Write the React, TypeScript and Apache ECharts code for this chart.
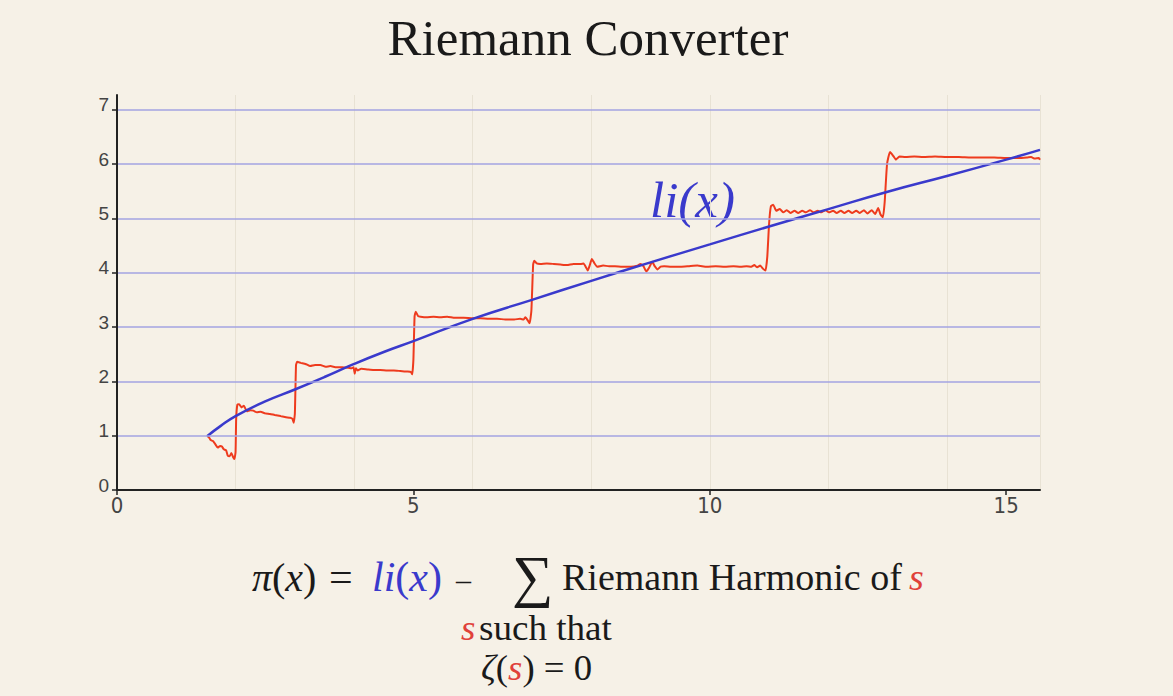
import React, { useEffect, useRef } from "react";
import * as echarts from "echarts";

// ---- Data ----
// Red curve: prime counting approximation pi(x) built from harmonics
const piX = [
  1.52, 1.55, 1.58, 1.62, 1.66, 1.7, 1.74, 1.77, 1.8, 1.84, 1.87, 1.9, 1.93, 1.96, 1.98, 2.0,
  2.01, 2.03, 2.06, 2.1, 2.14, 2.19, 2.25, 2.3, 2.36, 2.42, 2.5, 2.58, 2.66, 2.76, 2.85, 2.92,
  2.96, 2.98, 3.0, 3.02, 3.04, 3.1, 3.18, 3.26, 3.34, 3.43, 3.52, 3.6, 3.7, 3.8, 3.9, 3.96,
  3.99, 4.01, 4.03, 4.06, 4.12, 4.22, 4.33, 4.44, 4.56, 4.67, 4.78, 4.9, 4.96, 4.98, 5.0, 5.02,
  5.04, 5.08, 5.12, 5.22, 5.34, 5.45, 5.57, 5.7, 5.85, 6.0, 6.13, 6.27, 6.41, 6.55, 6.7, 6.8,
  6.86, 6.89, 6.93, 6.96, 6.99, 7.02, 7.04, 7.08, 7.14, 7.25, 7.37, 7.48, 7.59, 7.7, 7.82, 7.87,
  7.91, 7.94, 7.97, 8.01, 8.05, 8.1, 8.2, 8.3, 8.4, 8.52, 8.67, 8.78, 8.83, 8.88, 8.93, 8.97,
  9.03, 9.07, 9.12, 9.17, 9.23, 9.35, 9.51, 9.65, 9.79, 9.95, 10.1, 10.25, 10.4, 10.52, 10.62, 10.7,
  10.75, 10.8, 10.85, 10.9, 10.94, 10.97, 11.0, 11.03, 11.07, 11.12, 11.18, 11.24, 11.3, 11.36, 11.43, 11.49,
  11.56, 11.62, 11.69, 11.75, 11.82, 11.88, 11.95, 12.01, 12.08, 12.14, 12.21, 12.27, 12.34, 12.4, 12.47, 12.53,
  12.6, 12.66, 12.73, 12.79, 12.84, 12.88, 12.92, 12.95, 12.99, 13.04, 13.1, 13.14, 13.2, 13.3, 13.45, 13.6,
  13.8, 14.0, 14.2, 14.4, 14.6, 14.8, 15.0, 15.2, 15.35, 15.42, 15.48, 15.55, 15.57,
];
const piY = [
  0.99, 0.97, 0.92, 0.9, 0.84, 0.78, 0.81, 0.8, 0.75, 0.73, 0.63, 0.62, 0.68, 0.6, 0.57, 0.7,
  1.3, 1.57, 1.58, 1.52, 1.55, 1.45, 1.47, 1.46, 1.43, 1.44, 1.41, 1.4, 1.38, 1.36, 1.34, 1.33,
  1.31, 1.24, 1.4, 2.3, 2.36, 2.34, 2.32, 2.28, 2.3, 2.3, 2.27, 2.28, 2.26, 2.26, 2.25, 2.24,
  2.26, 2.14, 2.24, 2.2, 2.23, 2.22, 2.21, 2.21, 2.2, 2.2, 2.19, 2.18, 2.17, 2.13, 2.4, 3.2,
  3.28, 3.2, 3.19, 3.18, 3.19, 3.18, 3.19, 3.17, 3.17, 3.16, 3.16, 3.15, 3.15, 3.14, 3.14, 3.15,
  3.14, 3.18, 3.12, 3.07, 3.3, 4.15, 4.22, 4.17, 4.16, 4.17, 4.16, 4.15, 4.14, 4.16, 4.16, 4.17,
  4.1, 4.04, 4.12, 4.25, 4.18, 4.11, 4.13, 4.12, 4.12, 4.11, 4.11, 4.13, 4.16, 4.12, 4.02, 4.08,
  4.2, 4.12, 4.06, 4.11, 4.12, 4.11, 4.11, 4.12, 4.13, 4.11, 4.12, 4.11, 4.12, 4.11, 4.12, 4.11,
  4.14, 4.1, 4.13, 4.07, 4.04, 4.3, 4.9, 5.22, 5.25, 5.14, 5.17, 5.11, 5.15, 5.1, 5.14, 5.1,
  5.14, 5.11, 5.15, 5.11, 5.14, 5.11, 5.15, 5.11, 5.14, 5.1, 5.14, 5.1, 5.14, 5.1, 5.14, 5.1,
  5.15, 5.09, 5.15, 5.08, 5.19, 5.07, 5.02, 5.3, 6.0, 6.22, 6.14, 6.08, 6.14, 6.13, 6.14, 6.13,
  6.14, 6.13, 6.13, 6.12, 6.12, 6.12, 6.11, 6.11, 6.12, 6.13, 6.1, 6.11, 6.08,
];

// Blue curve: li(x)
const liX = [1.52, 1.75, 2, 2.5, 3, 3.5, 4, 4.5, 5, 6, 7, 8, 9, 10, 11, 12, 13, 14, 15, 15.57];
const liY = [0.99, 1.18, 1.36, 1.63, 1.85, 2.08, 2.32, 2.54, 2.74, 3.15, 3.5, 3.85, 4.19, 4.52, 4.85, 5.17, 5.49, 5.78, 6.08, 6.26];

const yTickValues = [0, 1, 2, 3, 4, 5, 6, 7];
const xTickValues = [0, 5, 10, 15];
const xGridStep = 2;
const X_MAX = 15.57;
const Y_MAX = 7.27;

const TITLE = "Riemann Converter";

export default function App() {
  const ref = useRef<HTMLDivElement>(null);

  useEffect(() => {
    document.body.style.margin = "0";
    document.body.style.background = "#f6f1e7";
    const chart = echarts.init(ref.current!, null, { renderer: "svg" });

    const serif = "'Liberation Serif', 'Times New Roman', serif";
    const black = "#1a1a1a";
    const blue = "#3a3acc";
    const red = "#e0413a";

    const option = {
      animation: false,
      backgroundColor: "#f6f1e7",
      grid: { left: 117, right: 133, top: 95, bottom: 206, containLabel: false, outerBoundsMode: "none" },
      xAxis: [
        {
          type: "value",
          min: 0,
          max: X_MAX,
          position: "bottom",
          axisLine: { show: true, onZero: false, lineStyle: { color: "#222", width: 2 } },
          axisTick: { show: true, length: 5, customValues: xTickValues, lineStyle: { color: "#222", width: 1.5 } },
          axisLabel: {
            customValues: xTickValues,
            margin: 4,
            color: "#444",
            fontSize: 22,
            fontFamily: "'Liberation Sans Narrow', 'DejaVu Sans Condensed', 'Liberation Sans', sans-serif",
          },
          splitLine: { show: false },
          z: 5,
        },
        {
          type: "value",
          min: 0,
          max: X_MAX,
          interval: xGridStep,
          position: "top",
          axisLine: { show: false },
          axisTick: { show: false },
          axisLabel: { show: false },
          splitLine: { show: true, lineStyle: { color: "#e8e2d4", width: 1 } },
          z: 0,
        },
      ],
      yAxis: {
        type: "value",
        min: 0,
        max: Y_MAX,
        axisLine: { show: true, onZero: false, lineStyle: { color: "#222", width: 2 } },
        axisTick: { show: true, length: 5, customValues: yTickValues, lineStyle: { color: "#222", width: 1.5 } },
        axisLabel: {
          customValues: yTickValues,
          margin: 8,
          color: "#444",
          fontSize: 19,
          verticalAlign: "bottom",
          lineHeight: 10,
          fontFamily: "'Liberation Sans', Arial, sans-serif",
        },
        splitLine: { show: true, lineStyle: { color: "#a3a3e2", width: 1.6 } },
        z: 5,
      },
      series: [
        {
          type: "line",
          xAxisIndex: 0,
          data: piX.map((x, i) => [x, piY[i]]),
          showSymbol: false,
          symbol: "none",
          lineStyle: { color: "#ee3b1e", width: 2 },
          smooth: 0.15,
          z: 3,
        },
        {
          type: "line",
          xAxisIndex: 0,
          data: liX.map((x, i) => [x, liY[i]]),
          showSymbol: false,
          symbol: "none",
          lineStyle: { color: blue, width: 2.5 },
          smooth: true,
          z: 4,
        },
      ],
      graphic: [
        {
          type: "text",
          x: 588,
          y: 38,
          style: { text: TITLE, font: `51px ${serif}`, fill: black, align: "center", verticalAlign: "middle" },
        },
        {
          type: "text",
          x: 650,
          y: 200,
          style: {
            text: "li(x)",
            font: `italic 51px ${serif}`,
            fill: blue,
            align: "left",
            verticalAlign: "middle",
          },
        },
        {
          type: "text",
          x: 252,
          y: 577,
          style: {
            text: "{m|π}{r|(}{m|x}{r|)}",
            rich: {
              m: { fontSize: 40, lineHeight: 40, fontFamily: serif, fontStyle: "italic", fill: black },
              r: { fontSize: 40, lineHeight: 40, fontFamily: serif, fill: black },
            },
            align: "left",
            verticalAlign: "middle",
          },
        },
        {
          type: "text",
          x: 329,
          y: 577,
          style: { text: "=", font: `42px ${serif}`, fill: black, align: "left", verticalAlign: "middle" },
        },
        {
          type: "text",
          x: 372,
          y: 577,
          style: {
            text: "{m|li}{r|(}{m|x}{r|)}",
            rich: {
              m: { fontSize: 42, lineHeight: 42, fontFamily: serif, fontStyle: "italic", fill: blue },
              r: { fontSize: 42, lineHeight: 42, fontFamily: serif, fill: blue },
            },
            align: "left",
            verticalAlign: "middle",
          },
        },
        {
          type: "text",
          x: 456,
          y: 579,
          style: { text: "–", font: `30px ${serif}`, fill: black, align: "left", verticalAlign: "middle" },
        },
        {
          type: "text",
          x: 512,
          y: 576,
          style: { text: "∑", font: `58px ${serif}`, fill: black, align: "left", verticalAlign: "middle" },
        },
        {
          type: "text",
          x: 562,
          y: 577,
          style: { text: "Riemann Harmonic of", font: `38px ${serif}`, fill: black, align: "left", verticalAlign: "middle" },
        },
        {
          type: "text",
          x: 909,
          y: 577,
          style: { text: "s", font: `italic 38px ${serif}`, fill: red, align: "left", verticalAlign: "middle" },
        },
        {
          type: "text",
          x: 461,
          y: 628,
          scaleX: 1.06,
          style: {
            text: "{s|s} {r|such that}",
            rich: {
              r: { fontSize: 35, lineHeight: 30, fontFamily: serif, fill: black },
              s: { fontSize: 35, lineHeight: 30, fontFamily: serif, fontStyle: "italic", fill: red },
            },
            align: "left",
            verticalAlign: "middle",
          },
        },
        {
          type: "text",
          x: 481,
          y: 668,
          scaleX: 1.05,
          style: {
            text: "{m|ζ}{r|(}{s|s}{r|) = 0}",
            rich: {
              m: { fontSize: 35, lineHeight: 30, fontFamily: serif, fontStyle: "italic", fill: black },
              r: { fontSize: 35, lineHeight: 30, fontFamily: serif, fill: black },
              s: { fontSize: 35, lineHeight: 30, fontFamily: serif, fontStyle: "italic", fill: red },
            },
            align: "left",
            verticalAlign: "middle",
          },
        },
      ],
    };

    chart.setOption(option as any);
    return () => chart.dispose();
  }, []);

  return <div ref={ref} style={{ width: 1173, height: 696 }} />;
}
